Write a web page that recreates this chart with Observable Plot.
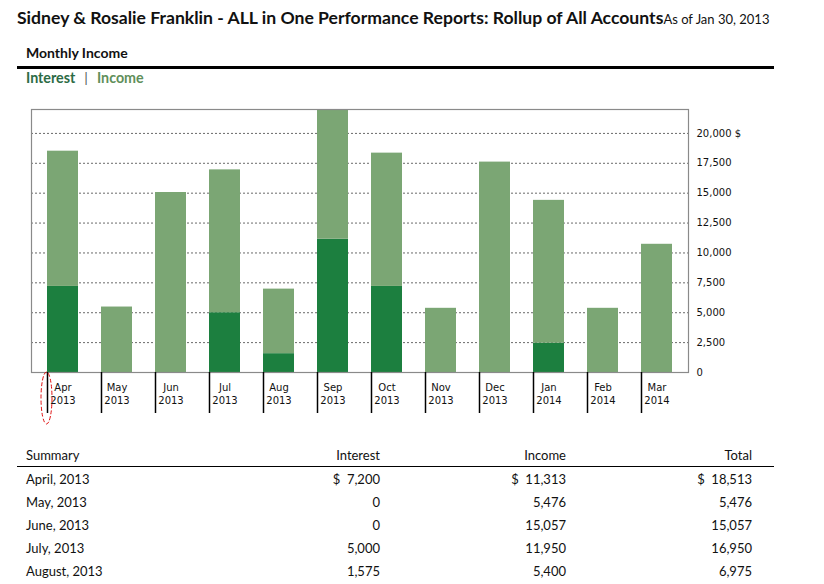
<!DOCTYPE html>
<html>
<head>
<meta charset="utf-8">
<script src="https://cdn.jsdelivr.net/npm/d3@7"></script>
<script src="https://cdn.jsdelivr.net/npm/@observablehq/plot@0.6"></script>
<style>
  html, body { margin: 0; padding: 0; background: #fff; overflow: hidden; width: 824px; height: 584px; }
  body { position: relative; font-family: Lato, "Open Sans", sans-serif; color: #111; }
  .abs { position: absolute; white-space: nowrap; }
  #title { left: 17px; top: 7px; font-size: 17.6px; font-weight: bold; }
  #title span { font-size: 13px; font-weight: normal; }
  #sub { left: 26px; top: 44px; font-size: 14px; font-weight: bold; }
  #rule { left: 17px; top: 66px; width: 757px; height: 3px; background: #000; }
  #legend { left: 26px; top: 69px; font-size: 14.3px; font-weight: bold; }
  #legend .i { color: #2c6b45; }
  #legend .n { color: #5f8f5a; }
  #legend .sep { color: #555; font-weight: normal; margin: 0 9px; }
  #chart { left: 0; top: 100px; }
  table { position: absolute; left: 17px; top: 444px; width: 757px; table-layout: fixed; border-collapse: collapse; font-size: 13px; }
  th { font-weight: normal; text-align: right; height: 22px; border-bottom: 1.5px solid #000; padding: 0; }
  td { text-align: right; height: 23px; padding: 0; }
  th:first-child, td:first-child { text-align: left; padding-left: 9px; }
  td:last-child, th:last-child { padding-right: 22px; }
</style>
</head>
<body>
<div class="abs" id="title">Sidney &amp; Rosalie Franklin - ALL in One Performance Reports: Rollup of All Accounts<span>As of Jan 30, 2013</span></div>
<div class="abs" id="sub">Monthly Income</div>
<div class="abs" id="rule"></div>
<div class="abs" id="legend"><span class="i">Interest</span><span class="sep">|</span><span class="n">Income</span></div>
<div class="abs" id="chart"></div>
<table id="tbl"><colgroup><col style="width:183px"><col style="width:180px"><col style="width:186px"><col style="width:208px"></colgroup></table>
<script>
const months = ["Apr 2013","May 2013","Jun 2013","Jul 2013","Aug 2013","Sep 2013","Oct 2013","Nov 2013","Dec 2013","Jan 2014","Feb 2014","Mar 2014"];
const monthNames = ["April, 2013","May, 2013","June, 2013","July, 2013","August, 2013","September, 2013","October, 2013","November, 2013","December, 2013","January, 2014","February, 2014","March, 2014"];
const interest = [7200, 0, 0, 5000, 1575, 11150, 7200, 0, 0, 2450, 0, 0];
const income = [11313, 5476, 15057, 11950, 5400, 10850, 11150, 5370, 17600, 11950, 5370, 10725];
const yTicks = [0, 2500, 5000, 7500, 10000, 12500, 15000, 17500, 20000];
const seriesNames = ["Interest", "Income"];
const seriesColors = ["#1c7f3f", "#7ba674"];
const visibleRows = 5;

const data = [];
months.forEach((m, i) => {
  data.push({month: m, series: "Interest", value: interest[i]});
  data.push({month: m, series: "Income", value: income[i]});
});

const fmt = d3.format(",");
const plot = Plot.plot({
  width: 780,
  height: 332,
  marginLeft: 31,
  marginRight: 92,
  marginTop: 9,
  marginBottom: 60,
  style: {fontFamily: "'DejaVu Sans', sans-serif", fontSize: "10px", color: "#111", background: "transparent"},
  x: {type: "band", domain: months, paddingInner: 0.426, paddingOuter: 0.296, label: null},
  y: {domain: [0, 22000], label: null},
  color: {domain: seriesNames, range: seriesColors},
  marks: [
    Plot.gridY(yTicks.filter(d => d > 0), {stroke: "#6a6a6a", strokeOpacity: 1, strokeDasharray: "2,2"}),
    Plot.barY(data, {x: "month", y: "value", fill: "series", order: seriesNames}),
    Plot.frame({stroke: "#8a8a8a", strokeWidth: 1.2}),
    Plot.axisY({anchor: "right", ticks: yTicks, tickSize: 0, tickPadding: 8,
      tickFormat: d => d === 20000 ? fmt(d) + " $" : fmt(d), label: null}),
    Plot.axisX({tickSize: 41, text: null, dx: -15.5, stroke: "#000", strokeWidth: 1.5, label: null}),
    Plot.axisX({tickSize: 0, tickPadding: 9, lineHeight: 1.3, tickFormat: d => d.replace(" ", "\n"), label: null})
  ]
});
document.getElementById("chart").appendChild(plot);

// red dashed annotation around the first tick
const xs = plot.scale("x"), ys = plot.scale("y");
const x0 = xs.apply(months[0]);
const yb = ys.apply(0);
d3.select(plot).append("ellipse")
  .attr("cx", x0 - 0.5).attr("cy", yb + 26).attr("rx", 5.5).attr("ry", 26)
  .attr("fill", "none").attr("stroke", "#e01010").attr("stroke-width", 1).attr("stroke-dasharray", "4,2");

// summary table
const tbl = d3.select("#tbl");
tbl.append("tr").selectAll("th").data(["Summary", "Interest", "Income", "Total"]).join("th").text(d => d);
months.slice(0, visibleRows).forEach((m, i) => {
  const tot = interest[i] + income[i];
  const pre = i === 0 ? "$\u00a0\u00a0" : "";
  tbl.append("tr").selectAll("td")
    .data([monthNames[i], pre + fmt(interest[i]), pre + fmt(income[i]), pre + fmt(tot)])
    .join("td").text(d => d);
});
</script>
</body>
</html>
